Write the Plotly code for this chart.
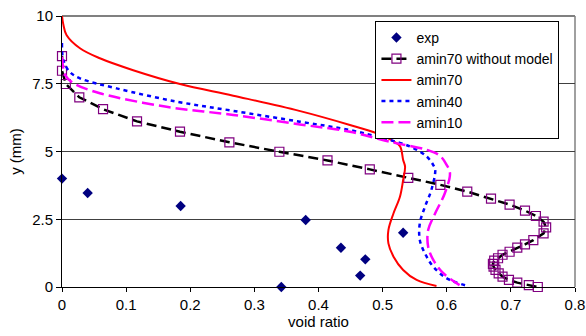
import plotly.graph_objects as go

# exp data
exp_x = [0.0, 0.04, 0.185, 0.38, 0.532, 0.435, 0.473, 0.465, 0.342]
exp_y = [4.0, 3.47, 2.99, 2.47, 2.0, 1.45, 1.02, 0.42, 0.0]

# amin70 without model
nm_x = [0.0, 0.0, 0.006, 0.027, 0.064, 0.117, 0.184, 0.261, 0.339, 0.414, 0.48, 0.54, 0.59,
        0.632, 0.669, 0.698, 0.722, 0.739, 0.751, 0.755, 0.751, 0.735, 0.722, 0.71, 0.698,
        0.687, 0.68, 0.674, 0.672, 0.673, 0.676, 0.681, 0.687, 0.697, 0.71, 0.728, 0.742]
nm_y = [8.52, 7.98, 7.49, 7.0, 6.56, 6.11, 5.73, 5.34, 4.99, 4.67, 4.34, 4.03, 3.77,
        3.52, 3.26, 3.04, 2.82, 2.62, 2.41, 2.2, 1.98, 1.73, 1.57, 1.45, 1.3,
        1.19, 1.06, 0.97, 0.85, 0.75, 0.63, 0.5, 0.38, 0.26, 0.16, 0.07, 0.0]

# amin70
a70_x = [0.0, 0.002, 0.007, 0.028, 0.059, 0.111, 0.184, 0.267, 0.37, 0.449, 0.491, 0.514,
         0.527, 0.532, 0.535, 0.532, 0.527, 0.517, 0.509, 0.509, 0.517, 0.532, 0.553, 0.584]
a70_y = [10.0, 9.7, 9.3, 8.81, 8.44, 8.0, 7.49, 7.06, 6.5, 5.98, 5.67, 5.42,
         5.2, 4.69, 4.44, 3.95, 3.33, 2.72, 2.1, 1.61, 1.12, 0.63, 0.26, 0.04]

# amin40
a40_x = [0.0, 0.002, 0.012, 0.028, 0.085, 0.179, 0.267, 0.371, 0.449, 0.501, 0.543, 0.569,
         0.579, 0.582, 0.576, 0.566, 0.558, 0.558, 0.566, 0.579, 0.6, 0.631]
a40_y = [9.0, 8.38, 7.94, 7.7, 7.33, 6.84, 6.5, 6.1, 5.79, 5.49, 5.18, 4.81,
         4.5, 4.32, 3.58, 2.96, 2.35, 1.73, 1.24, 0.75, 0.32, 0.05]

# amin10
a10_x = [0.0, 0.005, 0.018, 0.059, 0.163, 0.267, 0.371, 0.449, 0.511, 0.569, 0.589, 0.6,
         0.605, 0.597, 0.582, 0.571, 0.571, 0.579, 0.595, 0.62]
a10_y = [8.5, 7.82, 7.52, 7.15, 6.65, 6.35, 6.0, 5.73, 5.36, 5.06, 4.85, 4.5,
         4.2, 3.46, 2.72, 2.1, 1.49, 1.0, 0.5, 0.07]

# tick labels
x_ticks = [0, 0.1, 0.2, 0.3, 0.4, 0.5, 0.6, 0.7, 0.8]
x_ticklabels = ["0", "0.1", "0.2", "0.3", "0.4", "0.5", "0.6", "0.7", "0.8"]
y_ticks = [0, 2.5, 5, 7.5, 10]
y_ticklabels = ["0", "2.5", "5", "7.5", "10"]

fig = go.Figure()
fig.add_trace(go.Scatter(x=exp_x, y=exp_y, mode="markers", name="exp",
                         marker=dict(symbol="diamond", size=8, color="#000080"),
                         cliponaxis=False))
fig.add_trace(go.Scatter(x=nm_x, y=nm_y, mode="lines+markers", name="amin70 without model",
                         line=dict(color="black", width=2.5, dash="10px,5px"),
                         marker=dict(symbol="square-open", size=9, color="#800080",
                                     line=dict(width=1.2, color="#800080")),
                         cliponaxis=False))
fig.add_trace(go.Scatter(x=a70_x, y=a70_y, mode="lines", name="amin70",
                         line=dict(color="#FF0000", width=2, shape="spline")))
fig.add_trace(go.Scatter(x=a40_x, y=a40_y, mode="lines", name="amin40",
                         line=dict(color="#0000FF", width=2.5, dash="4px,4px", shape="spline")))
fig.add_trace(go.Scatter(x=a10_x, y=a10_y, mode="lines", name="amin10",
                         line=dict(color="#FF00FF", width=2.5, dash="12px,5px", shape="spline")))

fnt = dict(family="Liberation Sans, Arial, sans-serif", size=15, color="black")
lfnt = dict(family="Liberation Sans, Arial, sans-serif", size=14, color="black")
fig.update_layout(
    width=586, height=336,
    margin=dict(l=62, r=11, t=16, b=49, autoexpand=False),
    paper_bgcolor="white", plot_bgcolor="white",
    font=fnt,
    showlegend=True,
    legend=dict(x=0.611, y=0.982, xanchor="left", yanchor="top",
                bgcolor="white", bordercolor="black", borderwidth=1,
                font=lfnt, tracegroupgap=0),
    xaxis=dict(range=[0, 0.8], tickvals=x_ticks, ticktext=x_ticklabels,
               showgrid=False, zeroline=False, automargin=False,
               showline=True, linecolor="black", linewidth=1,
               ticks="outside", ticklen=4, tickcolor="black",
               title=dict(text="void ratio", font=fnt, standoff=2)),
    yaxis=dict(range=[0, 10], tickvals=y_ticks, ticktext=y_ticklabels,
               showgrid=True, gridcolor="#404040", gridwidth=1, zeroline=False, automargin=False,
               showline=True, linecolor="black", linewidth=1,
               ticks="outside", ticklen=5, tickcolor="black",
               title=dict(text="y (mm)", font=fnt, standoff=6)),
    shapes=[
        dict(type="line", xref="paper", yref="paper", x0=0, x1=1, y0=1, y1=1,
             line=dict(color="#808080", width=2), layer="below"),
        dict(type="line", xref="paper", yref="paper", x0=1, x1=1, y0=0, y1=1,
             line=dict(color="#808080", width=1.5), layer="below"),
    ],
)

fig.write_html("out.html", config={"displayModeBar": False},
               post_script="document.body.style.margin='0';document.body.style.overflow='hidden';")
